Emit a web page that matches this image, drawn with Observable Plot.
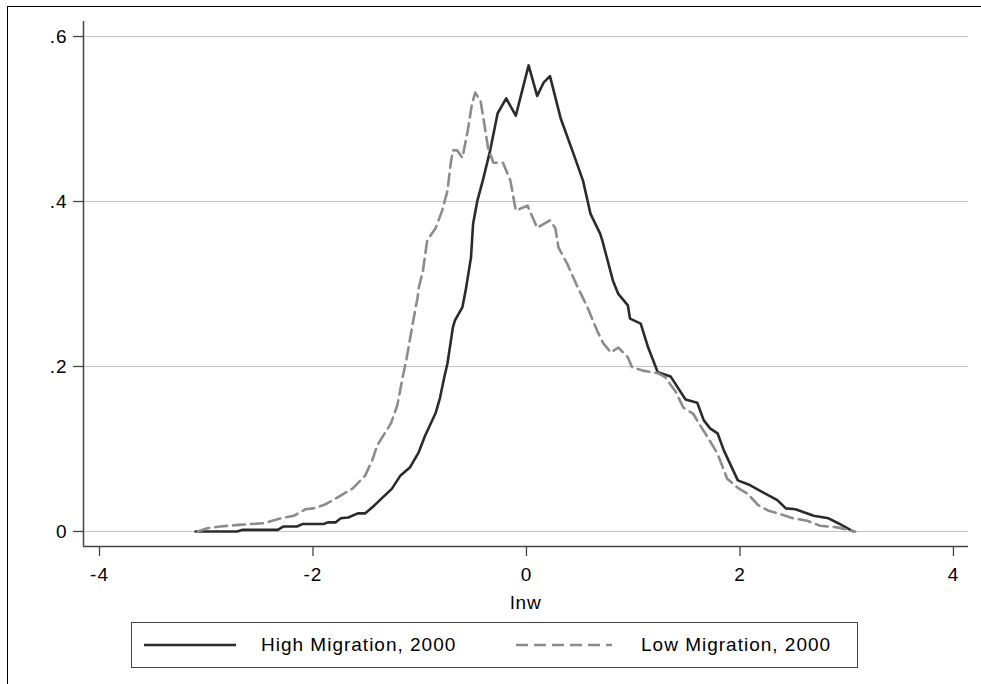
<!DOCTYPE html>
<html>
<head>
<meta charset="utf-8">
<script src="https://cdn.jsdelivr.net/npm/d3@7"></script>
<script src="https://cdn.jsdelivr.net/npm/@observablehq/plot@0.6"></script>
<style>
  html, body { margin: 0; padding: 0; background: #fff; }
  #wrap { position: relative; width: 981px; height: 684px; overflow: hidden; background: #fff;
          font-family: "Liberation Sans", Arial, sans-serif; }
  #frame { position: absolute; left: 7px; top: 6px; width: 990px; height: 700px;
           border-left: 1.5px solid #000; border-top: 1.5px solid #000; box-sizing: border-box; }
  #chart { position: absolute; left: 0; top: 0; }
  #chart svg text { letter-spacing: 1px; }
  #xlabel { position: absolute; left: 426px; width: 200px; top: 592px; text-align: center;
            font-size: 19px; letter-spacing: 1px; color: #000; }
  #legend { position: absolute; left: 131px; top: 622px; width: 727px; height: 46px;
            border: 1.2px solid #444; box-sizing: border-box; background: #fff; }
  .sw { position: absolute; top: 22px; height: 0; }
  .lt { position: absolute; top: 11px; font-size: 19px; letter-spacing: 1px; color: #000; white-space: nowrap; }
</style>
</head>
<body>
<div id="wrap">
  <div id="frame"></div>
  <div id="chart"></div>
  <div id="xlabel"></div>
  <div id="legend"></div>
</div>
<script>
// ---- data ----
const highX = [-3.10,-2.71,-2.66,-2.33,-2.28,-2.15,-2.10,-1.90,-1.86,-1.79,-1.74,-1.67,-1.58,-1.51,-1.43,-1.26,-1.18,-1.09,-1.01,-0.95,-0.85,-0.81,-0.77,-0.74,-0.69,-0.67,-0.60,-0.57,-0.52,-0.50,-0.46,-0.41,-0.34,-0.27,-0.19,-0.10,0.02,0.10,0.16,0.22,0.32,0.44,0.53,0.60,0.69,0.71,0.81,0.86,0.95,0.97,1.07,1.14,1.23,1.35,1.49,1.60,1.66,1.72,1.79,1.85,1.98,2.08,2.22,2.35,2.43,2.52,2.69,2.83,2.92,3.06];
const highY = [0,0,0.002,0.002,0.006,0.006,0.009,0.009,0.011,0.011,0.016,0.017,0.022,0.022,0.031,0.052,0.068,0.078,0.096,0.116,0.144,0.162,0.187,0.204,0.247,0.256,0.272,0.292,0.332,0.373,0.401,0.425,0.462,0.507,0.525,0.504,0.565,0.528,0.544,0.552,0.501,0.458,0.425,0.385,0.361,0.353,0.304,0.288,0.274,0.258,0.252,0.223,0.193,0.188,0.160,0.156,0.135,0.125,0.119,0.098,0.062,0.057,0.047,0.038,0.028,0.027,0.019,0.016,0.010,0];
const lowX = [-3.08,-2.99,-2.87,-2.70,-2.46,-2.30,-2.18,-2.07,-2.00,-1.90,-1.81,-1.71,-1.63,-1.51,-1.44,-1.40,-1.27,-1.21,-1.16,-1.13,-1.06,-1.02,-1.01,-0.97,-0.93,-0.85,-0.79,-0.74,-0.71,-0.69,-0.65,-0.60,-0.55,-0.51,-0.48,-0.43,-0.40,-0.36,-0.31,-0.22,-0.15,-0.10,0.01,0.10,0.22,0.27,0.30,0.38,0.48,0.57,0.67,0.72,0.79,0.86,0.95,0.99,1.09,1.23,1.30,1.40,1.47,1.56,1.63,1.70,1.79,1.88,1.98,2.07,2.17,2.27,2.38,2.50,2.63,2.75,2.91,3.08];
const lowY = [0,0.004,0.006,0.008,0.010,0.016,0.019,0.027,0.028,0.032,0.038,0.046,0.052,0.068,0.088,0.104,0.131,0.153,0.187,0.205,0.256,0.284,0.295,0.316,0.353,0.368,0.389,0.413,0.446,0.462,0.462,0.453,0.486,0.519,0.532,0.522,0.498,0.465,0.447,0.447,0.425,0.389,0.395,0.368,0.377,0.368,0.344,0.325,0.296,0.272,0.241,0.228,0.217,0.223,0.211,0.199,0.195,0.192,0.187,0.169,0.150,0.143,0.128,0.114,0.094,0.064,0.053,0.046,0.032,0.025,0.021,0.016,0.013,0.007,0.005,0];
const seriesNames = ["High Migration, 2000", "Low Migration, 2000"];
const xTicks = [-4, -2, 0, 2, 4];
const xTickLabels = ["-4", "-2", "0", "2", "4"];
const yTicks = [0, 0.2, 0.4, 0.6];
const yTickLabels = ["0", ".2", ".4", ".6"];
const xTitle = "lnw";

// ---- build ----
const high = highX.map((x, i) => ({x, y: highY[i]}));
const low = lowX.map((x, i) => ({x, y: lowY[i]}));
const xDom = [-4.15, 4.141];
const yDom = [-0.0182, 0.6182];
const styles = {
  high: {stroke: "#2b2b2b", width: 2.6, dash: null},
  low: {stroke: "#8c8c8c", width: 2.6, dash: "12,6"}
};

const chart = Plot.plot({
  width: 981,
  height: 590,
  marginLeft: 83,
  marginRight: 13,
  marginTop: 21,
  marginBottom: 44,
  style: {fontFamily: "'Liberation Sans', Arial, sans-serif", fontSize: "19px", color: "#000", background: "transparent"},
  x: {domain: xDom},
  y: {domain: yDom},
  marks: [
    Plot.gridY(yTicks, {stroke: "#c4c4c4", strokeOpacity: 1, strokeWidth: 1.2}),
    Plot.line(high, {x: "x", y: "y", stroke: styles.high.stroke, strokeWidth: styles.high.width, strokeLinejoin: "round"}),
    Plot.line(low, {x: "x", y: "y", stroke: styles.low.stroke, strokeWidth: styles.low.width, strokeDasharray: styles.low.dash, strokeLinejoin: "round"}),
    Plot.ruleX([xDom[0]], {stroke: "#444", strokeWidth: 1.5}),
    Plot.ruleY([yDom[0]], {stroke: "#444", strokeWidth: 1.5}),
    Plot.axisY(yTicks, {tickSize: 10, tickPadding: 6, stroke: "#444", strokeWidth: 1.3, tickFormat: (d, i) => yTickLabels[i], label: null, fill: "#000"}),
    Plot.axisX(xTicks, {tickSize: 10, tickPadding: 11, stroke: "#444", strokeWidth: 1.3, tickFormat: (d, i) => xTickLabels[i], label: null, fill: "#000"})
  ]
});
document.getElementById("chart").appendChild(chart);
document.getElementById("xlabel").textContent = xTitle;

// legend
const legend = document.getElementById("legend");
function addSwatch(left, width, st) {
  const s = document.createElementNS("http://www.w3.org/2000/svg", "svg");
  s.setAttribute("width", width); s.setAttribute("height", 6);
  s.style.position = "absolute"; s.style.left = left + "px"; s.style.top = "19px";
  const l = document.createElementNS("http://www.w3.org/2000/svg", "line");
  l.setAttribute("x1", 0); l.setAttribute("x2", width); l.setAttribute("y1", 3); l.setAttribute("y2", 3);
  l.setAttribute("stroke", st.stroke); l.setAttribute("stroke-width", st.width);
  if (st.dash) l.setAttribute("stroke-dasharray", st.dash);
  s.appendChild(l); legend.appendChild(s);
}
function addText(left, txt) {
  const d = document.createElement("div"); d.className = "lt"; d.style.left = left + "px"; d.textContent = txt;
  legend.appendChild(d);
}
addSwatch(12, 92, styles.high);
addText(129, seriesNames[0]);
addSwatch(384, 96, styles.low);
addText(509, seriesNames[1]);
</script>
</body>
</html>
